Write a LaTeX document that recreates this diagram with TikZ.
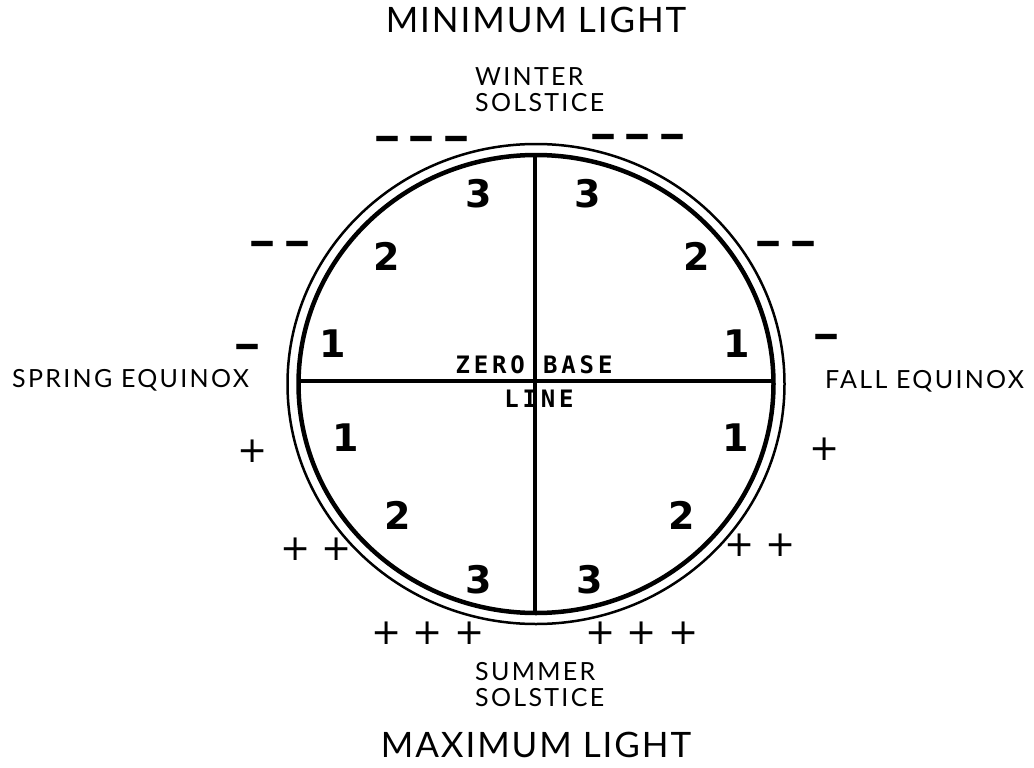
\documentclass[tikz,border=0pt]{standalone}
\usepackage{fontspec}
\newfontfamily\headfont[LetterSpace=5.5]{Lato}
\newfontfamily\seasonfont[LetterSpace=9.2]{Lato}
\newfontfamily\basefont[LetterSpace=16]{DejaVu Sans Mono}
\newfontfamily\zonefont{DejaVu Sans}
\newfontfamily\signfont{DejaVu Sans}
\newcommand\heavydash[1]{\scalebox{1}[1.75]{#1}}
\newcommand\dashgap{\hspace{11pt}}
\begin{document}
\begin{tikzpicture}[x=1pt,y=-1pt,
	head/.style={font=\headfont\fontsize{35}{35}\selectfont,inner sep=0pt,anchor=base},
	season/.style={font=\seasonfont\fontsize{25}{26}\selectfont,inner sep=0pt,align=left},
	baseword/.style={font=\basefont\bfseries\fontsize{24}{24}\selectfont,inner sep=0pt,anchor=base},
	zone/.style={font=\zonefont\bfseries\fontsize{38}{38}\selectfont,inner sep=0pt,anchor=base},
	moremark/.style={font=\signfont\fontsize{36}{36}\selectfont,inner sep=0pt},
	lessmark/.style={font=\signfont\bfseries\fontsize{24}{24}\selectfont,inner sep=0pt,anchor=base},
	innerring/.style={line width=4.5pt},
	outerring/.style={line width=2.5pt},
	axis/.style={line width=3.5pt}]
\useasboundingbox (0,0) rectangle (1034,768);
%
	\coordinate (c) at (536,384);
	\draw[outerring] (c) ellipse [x radius=248.5pt,y radius=240pt];
	\draw[innerring] (c) ellipse [x radius=237.5pt,y radius=229pt];
	\coordinate (top) at (535,155);
	\coordinate (bottom) at (535,613);
	\coordinate (west) at (298,381);
	\coordinate (east) at (773,381);
	\draw[axis] (top) -- (bottom);
	\draw[axis] (west) -- (east);
%
	\node[head] (minlight) at (536,33) {MINIMUM LIGHT};
	\node[head] (maxlight) at (536,757) {MAXIMUM LIGHT};
	\node[season,anchor=north west] (winter) at (475,67) {WINTER\\SOLSTICE};
	\node[season,anchor=north west] (summer) at (475,662) {SUMMER\\SOLSTICE};
	\node[season,anchor=base west] (spring) at (12,387) {SPRING EQUINOX};
	\node[season,anchor=base west] (fall) at (825,388) {FALL EQUINOX};
	\node[baseword] (zerobase) at (534,373) {ZERO BASE};
	\node[baseword] (line) at (539,407) {LINE};
%
	\node[zone] (z3a) at (479,207) {3};
	\node[zone] (z3b) at (588,207) {3};
	\node[zone] (z2a) at (387,270) {2};
	\node[zone] (z2b) at (697,270) {2};
	\node[zone] (z1a) at (333,357) {1};
	\node[zone] (z1b) at (737,357) {1};
	\node[zone] (z1c) at (346,451) {1};
	\node[zone] (z1d) at (736,451) {1};
	\node[zone] (z2c) at (398,529) {2};
	\node[zone] (z2d) at (682,529) {2};
	\node[zone] (z3c) at (479,593) {3};
	\node[zone] (z3d) at (590,593) {3};
%
	\node[lessmark] (m3a) at (422,150) {\heavydash{—\dashgap—\dashgap—}};
	\node[lessmark] (m3b) at (638,148) {\heavydash{—\dashgap—\dashgap—}};
	\node[lessmark] (m2a) at (280,255) {\heavydash{—\dashgap—}};
	\node[lessmark] (m2b) at (786,255) {\heavydash{—\dashgap—}};
	\node[lessmark] (m1a) at (247,358) {\heavydash{—}};
	\node[lessmark] (m1b) at (826,348) {\heavydash{—}};
	\node[moremark] (p1a) at (253,451) {+};
	\node[moremark] (p1b) at (825,449) {+};
	\node[moremark] (p2a) at (316,549) {+ +};
	\node[moremark] (p2b) at (760,545) {+ +};
	\node[moremark] (p3a) at (428,633) {+ + +};
	\node[moremark] (p3b) at (642,633) {+ + +};
%
\end{tikzpicture}
\end{document}
